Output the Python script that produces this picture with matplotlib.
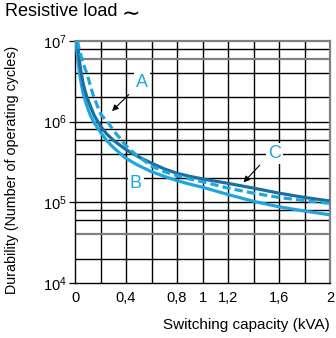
import numpy as np
import matplotlib
matplotlib.use("Agg")
import matplotlib.pyplot as plt

plt.rcParams["font.family"] = ["Liberation Sans", "DejaVu Sans"]

# Curve A (dashed, light blue)
cap_a = [0.018, 0.04, 0.06, 0.08, 0.097, 0.12, 0.144, 0.17, 0.2, 0.23, 0.26, 0.3, 0.35, 0.4, 0.47,
         0.5, 0.6, 0.7, 0.8, 0.9, 1.0, 1.2, 1.4, 1.6, 1.8, 2.0]
dur_a = [1e7, 7.2e6, 5.5e6, 4.5e6, 3.8e6, 2.8e6, 2.1e6, 1.65e6, 1.25e6, 1.1e6, 9.8e5, 7.8e5, 6.3e5, 5.0e5, 4.0e5,
         3.7e5, 2.8e5, 2.4e5, 2.14e5, 1.95e5, 1.8e5, 1.5e5, 1.3e5, 1.15e5, 1.05e5, 9.7e4]

# Curve B (solid, light blue)
cap_b = [0.008, 0.015, 0.025, 0.034, 0.05, 0.065, 0.092, 0.12, 0.15, 0.2, 0.25, 0.3, 0.4, 0.5, 0.6, 0.7, 0.8,
         0.9, 1.0, 1.2, 1.4, 1.6, 1.8, 2.0]
dur_b = [1e7, 7.5e6, 5.3e6, 4.1e6, 2.9e6, 2.2e6, 1.6e6, 1.2e6, 9.7e5, 7.4e5, 5.8e5, 4.8e5, 3.5e5, 2.85e5, 2.4e5,
         2.1e5, 1.86e5, 1.68e5, 1.54e5, 1.25e5, 1.03e5, 8.8e4, 7.8e4, 7.0e4]

# Curve C (solid, dark blue)
cap_c = [0.019, 0.03, 0.04, 0.052, 0.065, 0.09, 0.118, 0.15, 0.2, 0.25, 0.3, 0.4, 0.5, 0.6, 0.7, 0.8, 0.9,
         1.0, 1.2, 1.4, 1.6, 1.8, 2.0]
dur_c = [1e7, 6.5e6, 4.9e6, 3.8e6, 2.9e6, 2.1e6, 1.6e6, 1.2e6, 8.8e5, 7.0e5, 5.9e5, 4.5e5, 3.65e5, 3.06e5, 2.6e5,
         2.29e5, 2.1e5, 1.95e5, 1.72e5, 1.5e5, 1.3e5, 1.15e5, 1.04e5]

x_ticks = [0, 0.4, 0.8, 1, 1.2, 1.6, 2]
x_labels = ["0", "0,4", "0,8", "1", "1,2", "1,6", "2"]
y_ticks = [1e4, 1e5, 1e6, 1e7]
y_labels = [r"$\mathregular{10^4}$", r"$\mathregular{10^5}$", r"$\mathregular{10^6}$", r"$\mathregular{10^7}$"]

light = "#1ea6e0"
dark = "#1d6f9e"

fig = plt.figure(figsize=(3.36, 3.38), dpi=100)
ax = fig.add_axes([75 / 336, 1 - 283 / 338, 255 / 336, 242 / 338])
ax.set_yscale("log")
ax.set_xlim(0, 2)
ax.set_ylim(1e4, 1e7)

# grid
for gx in np.arange(0.2, 2.0, 0.2):
    ax.axvline(gx, color="black", lw=1.0, zorder=1)
for dec in [1e4, 1e5, 1e6]:
    for m in [2, 4, 6, 8]:
        col = "#808080" if m * dec in (6e6, 4e4) else "black"
        lw = 1.6 if col != "black" else 1.0
        ax.axhline(m * dec, color=col, lw=lw, zorder=1)
for dec in [1e5, 1e6]:
    ax.axhline(dec, color="black", lw=1.0, zorder=1)

ax.plot(cap_b, dur_b, color=light, lw=2.3, zorder=3, solid_joinstyle="round")
ax.plot(cap_c, dur_c, color=dark, lw=2.3, zorder=4, solid_joinstyle="round")
ax.plot(cap_a, dur_a, color=light, lw=2.3, ls=(0, (2.6, 1.3)), zorder=5)

bbox = dict(facecolor="white", edgecolor="none", pad=1.5)
ax.text(0.525, 3.1e6, "A", color=light, fontsize=13, ha="center", va="center", bbox=bbox, zorder=6)
ax.text(0.478, 1.73e5, "B", color=light, fontsize=13, ha="center", va="center", bbox=bbox, zorder=6)
ax.text(1.563, 4.06e5, "C", color=light, fontsize=13, ha="center", va="center", bbox=bbox, zorder=6)

arrow = dict(arrowstyle="-|>", color="black", lw=0.8, mutation_scale=9)
ax.annotate("", xy=(0.275, 1.28e6), xytext=(0.437, 2.29e6), arrowprops=arrow, zorder=7)
ax.annotate("", xy=(1.307, 1.67e5), xytext=(1.464, 3.06e5), arrowprops=arrow, zorder=7)

ax.set_xticks(x_ticks)
ax.set_xticklabels(x_labels, fontsize=10.5)
ax.set_yticks(y_ticks)
ax.set_yticklabels(y_labels, fontsize=10.5)
ax.yaxis.set_minor_locator(matplotlib.ticker.NullLocator())
ax.tick_params(axis="x", length=0, pad=6)
ax.tick_params(axis="y", length=4, width=0.9, pad=2)

for s in ["left", "bottom"]:
    ax.spines[s].set_linewidth(1.0)
for s in ["top", "right"]:
    ax.spines[s].set_color("#808080")
    ax.spines[s].set_linewidth(1.6)

ax.set_xlabel("Switching capacity (kVA)", fontsize=11, loc="right", labelpad=9)
fig.text(0.036, 0.497, "Durability (Number of operating cycles)", rotation=90,
         fontsize=10.3, ha="center", va="center")
fig.text(5 / 336, 1 - 12 / 338, "Resistive load", fontsize=13, ha="left", va="center")
fig.text(122 / 336, 1 - 14 / 338, "\u223c", fontsize=16, ha="left", va="center",
         family=["DejaVu Sans"])

fig.savefig("out.png", dpi=100)
